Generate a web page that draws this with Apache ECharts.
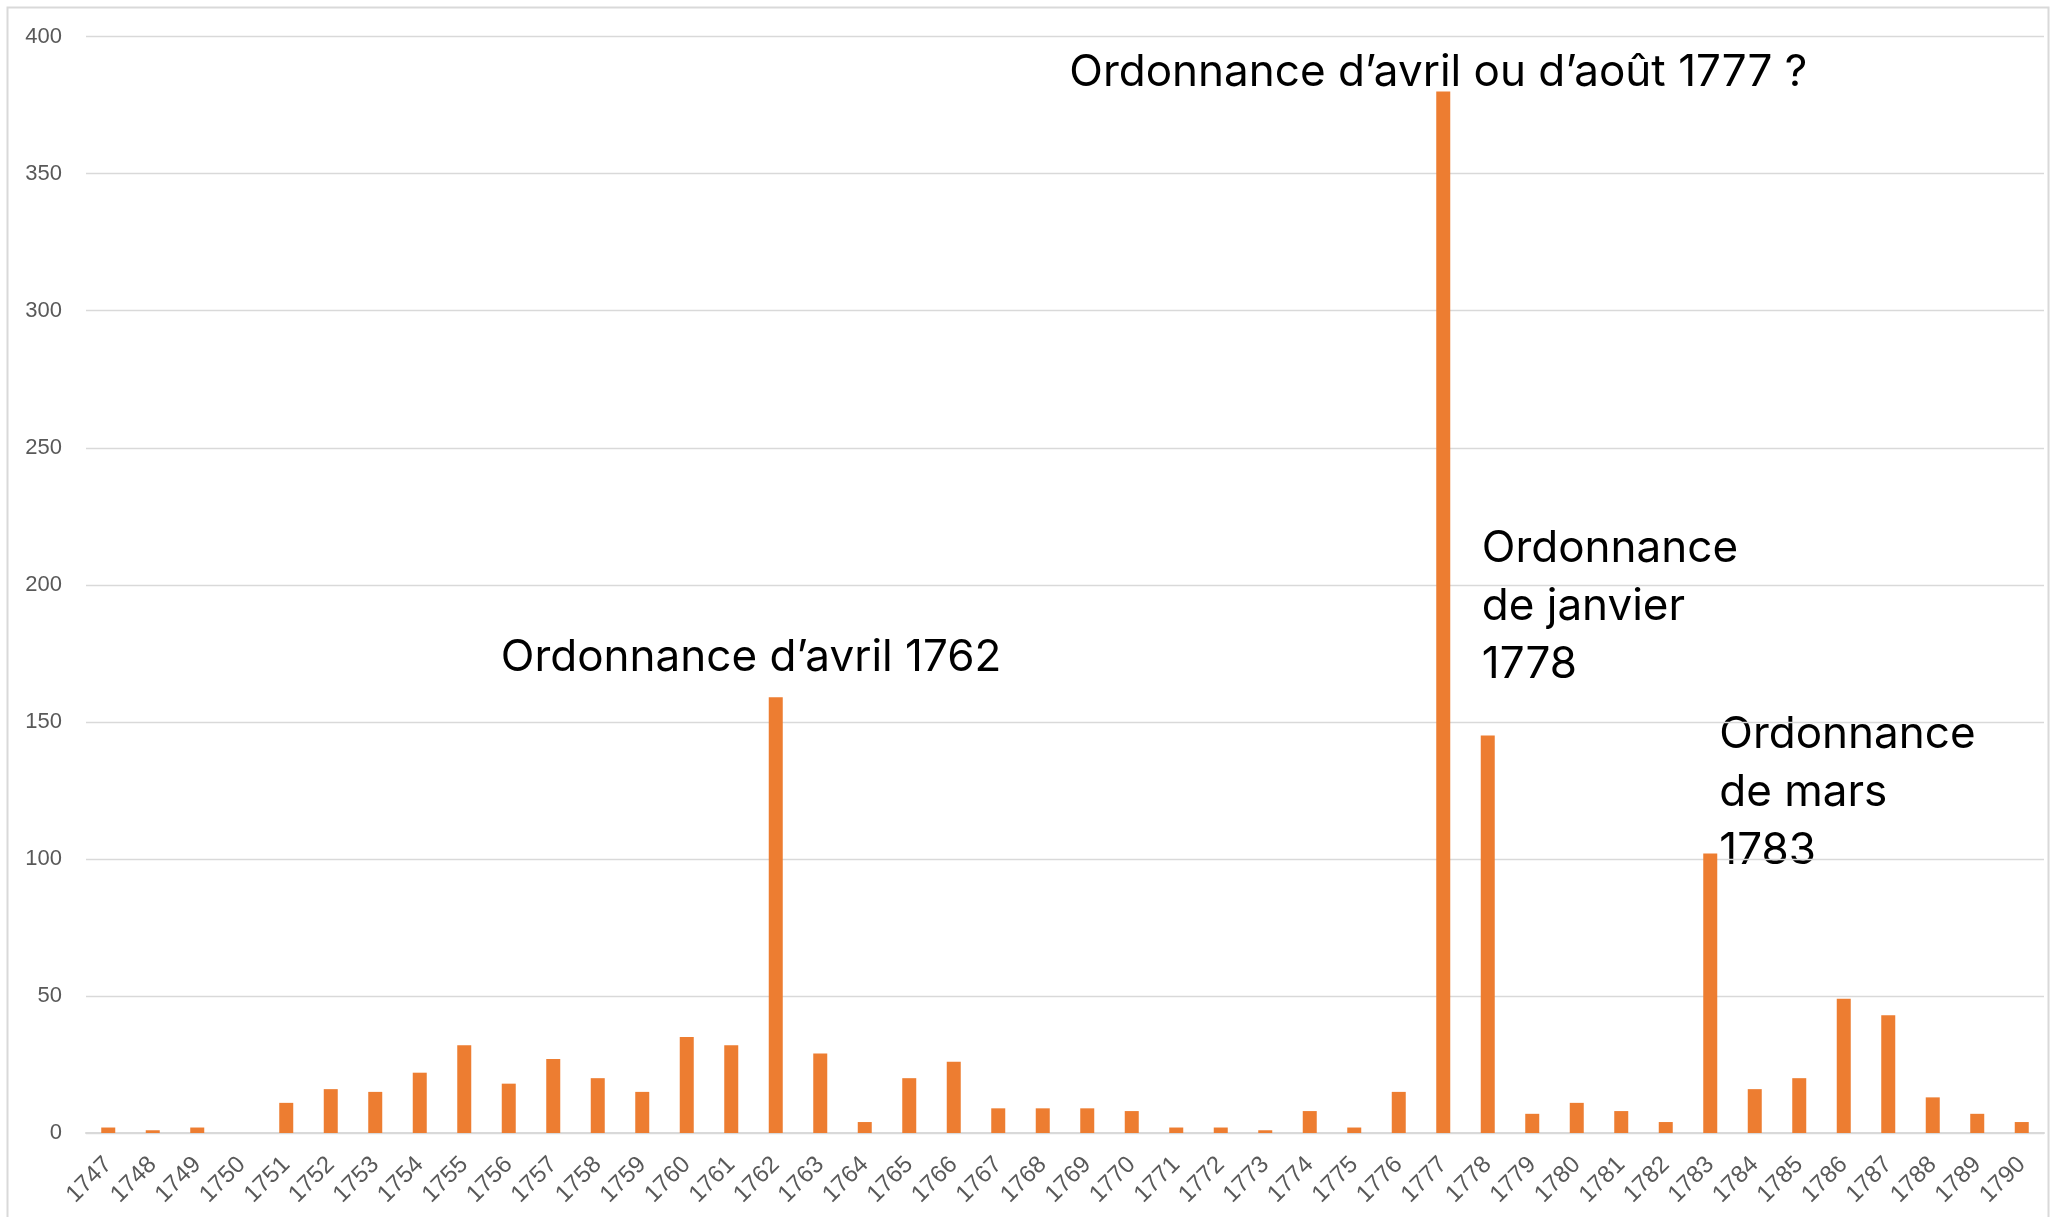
<!DOCTYPE html>
<html>
<head>
<meta charset="utf-8">
<script src="https://cdn.jsdelivr.net/npm/echarts@6/dist/echarts.min.js"></script>
<style>
html,body{margin:0;padding:0;background:#fff;}
#chart{width:2051px;height:1217px;}
</style>
</head>
<body>
<div id="chart"></div>
<script>
const years = ['1747','1748','1749','1750','1751','1752','1753','1754','1755','1756','1757','1758','1759','1760','1761','1762','1763','1764','1765','1766','1767','1768','1769','1770','1771','1772','1773','1774','1775','1776','1777','1778','1779','1780','1781','1782','1783','1784','1785','1786','1787','1788','1789','1790'];
const counts = [2,1,2,0,11,16,15,22,32,18,27,20,15,35,32,159,29,4,20,26,9,9,9,8,2,2,1,8,2,15,380,145,7,11,8,4,102,16,20,49,43,13,7,4];
const yTicks = [0,50,100,150,200,250,300,350,400];

const annTexts = ['Ordonnance d’avril 1762','Ordonnance d’avril ou d’août 1777 ?','Ordonnance\nde janvier\n1778','Ordonnance\nde mars\n1783'];
const annYears = ['1762','1777','1778','1783'];
const annValues = [173.5, 386.8, 192, 124];
const annDx = [-275, -374, -6, 9];

const chart = echarts.init(document.getElementById('chart'));
const option = {
  animation: false,
  backgroundColor: '#fff',
  grid: {left: 86, right: 7, top: 36.6, bottom: 84, containLabel: false},
  xAxis: {
    type: 'category',
    data: years,
    axisLine: {show: true, lineStyle: {color: '#d9d9d9', width: 2}},
    axisTick: {show: false},
    axisLabel: {interval: 0, rotate: 45, color: '#595959', fontSize: 24, fontFamily: 'Liberation Sans', margin: 28}
  },
  yAxis: {
    type: 'value',
    min: yTicks[0], max: yTicks[yTicks.length-1], interval: 50,
    axisLine: {show: false},
    axisTick: {show: false},
    axisLabel: {color: '#595959', fontSize: 22, fontFamily: 'Liberation Sans', margin: 24},
    splitLine: {lineStyle: {color: '#d9d9d9', width: 1.3}}
  },
  series: [{
    type: 'bar',
    data: counts,
    barWidth: 14,
    itemStyle: {color: '#ED7D31'}
  }],
  graphic: [{
    type: 'rect', silent: true,
    shape: {x: 7.5, y: 7.5, width: 2041, height: 1240},
    style: {fill: 'none', stroke: '#d9d9d9', lineWidth: 2}
  }]
};
chart.setOption(option);

const annGraphics = annTexts.map((t, i) => {
  const p = chart.convertToPixel({seriesIndex: 0}, [annYears[i], annValues[i]]);
  return {
    type: 'text', silent: true,
    x: p[0] + annDx[i], y: p[1],
    style: {
      text: t, fill: '#000', fontSize: 44, fontFamily: 'Inter',
      lineHeight: 58, align: 'left', verticalAlign: 'middle'
    }
  };
});
chart.setOption({graphic: option.graphic.concat(annGraphics)});
</script>
</body>
</html>
